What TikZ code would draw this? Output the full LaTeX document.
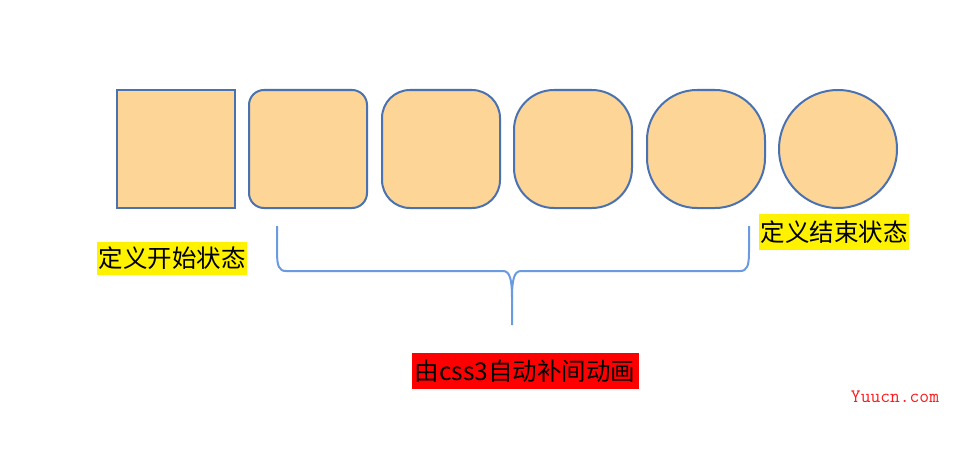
\documentclass[tikz,border=0pt]{standalone}
\usepackage{fontspec}
\setmainfont{Noto Sans CJK SC}
\usetikzlibrary{positioning}

\definecolor{shapefill}{HTML}{FCD597}
\definecolor{shapeline}{HTML}{4A72B0}
\definecolor{braceline}{HTML}{6A9BE0}

\tikzset{
    frame/.style={draw=shapeline, fill=shapefill, line width=2pt, minimum width=118pt, minimum height=118pt, inner sep=0pt},
    note/.style={inner sep=0pt, font=\fontsize{24.5}{27}\selectfont, text=black},
}

\begin{document}
\begin{tikzpicture}[x=1pt, y=-1pt]
    \useasboundingbox (0,0) rectangle (956,452);

    \node[frame] (s0) at (176,149) {};
    \node[frame, rounded corners=15pt] (s1) at (308,149) {};
    \node[frame, rounded corners=28pt] (s2) at (441,149) {};
    \node[frame, rounded corners=40pt] (s3) at (573,149) {};
    \node[frame, rounded corners=50pt] (s4) at (706,149) {};
    \node[frame, circle] (s5) at (838,149) {};

    \node[note, fill=yellow, minimum width=150pt, minimum height=33pt] (start) at (172,258) {定义开始状态};
    \node[note, fill=yellow, minimum width=150pt, minimum height=36pt] (end) at (834,232) {定义结束状态};
    \node[note, fill=red, minimum width=227pt, minimum height=36pt] (tween) at (525,371) {由css3自动补间动画};

    \coordinate (bl) at (277,226);
    \coordinate (br) at (749,226);
    \coordinate (bm) at (512,325);

    \draw[braceline, line width=2pt]
        (bl) -- (277,252) .. controls (277,266) and (279,271) .. (286,271)
        -- (503,271) .. controls (510,271) and (512,280) .. (512,298) -- (bm);
    \draw[braceline, line width=2pt]
        (512,298) .. controls (512,280) and (514,271) .. (521,271)
        -- (740,271) .. controls (747,271) and (749,266) .. (749,252) -- (br);

    \node[text=red!90!white, font=\ttfamily\fontsize{19}{21}\selectfont, inner sep=0pt] (mark) at (895,397) {Yuucn.com};
\end{tikzpicture}
\end{document}
